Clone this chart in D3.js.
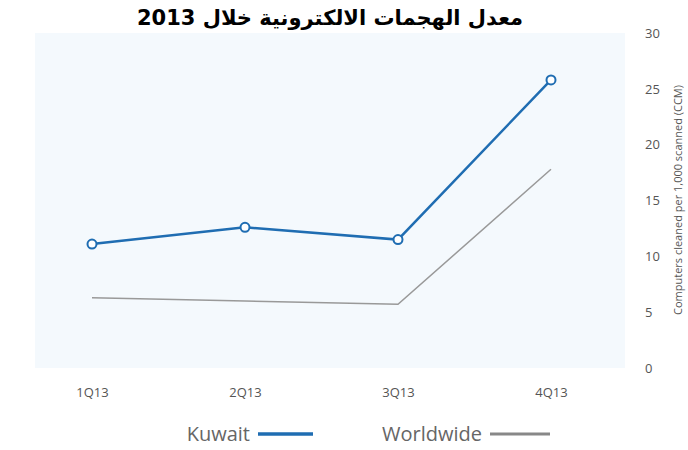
<!DOCTYPE html>
<html>
<head>
<meta charset="utf-8">
<script src="https://d3js.org/d3.v7.min.js"></script>
<style>
  body { margin: 0; background: #fff; }
  text { font-family: "Open Sans", "DejaVu Sans", sans-serif; }
</style>
</head>
<body>
<svg width="688" height="450"></svg>
<script>
  var quarters = ["1Q13", "2Q13", "3Q13", "4Q13"]
  var kuwait = [11.1, 12.6, 11.5, 25.8]
  var worldwide = [6.3, 6.0, 5.7, 17.8]
  var yTicks = [0, 5, 10, 15, 20, 25, 30]

  var svg = d3.select("svg")
  var plotLeft = 35, plotRight = 625, plotTop = 33, plotBottom = 368

  var x = d3.scalePoint().domain(quarters).range([92, 551])
  var y = d3.scaleLinear().domain([0, 30]).range([plotBottom, plotTop])

  // plot background
  svg.append("rect")
    .attr("x", plotLeft).attr("y", plotTop)
    .attr("width", plotRight - plotLeft).attr("height", plotBottom - plotTop)
    .attr("fill", "#f4f9fd")

  // title
  svg.append("text")
    .attr("x", 330).attr("y", 25)
    .attr("text-anchor", "middle")
    .style("font-family", "'DejaVu Sans', sans-serif")
    .style("font-size", "21px").style("font-weight", "bold")
    .attr("direction", "rtl")
    .text("معدل الهجمات الالكترونية خلال 2013")

  // y axis on the right
  var yAxis = d3.axisRight(y).tickValues(yTicks).tickSize(0).tickPadding(0)
  var gy = svg.append("g").attr("transform", "translate(645,0)").call(yAxis)
  gy.select(".domain").remove()
  gy.selectAll("text").style("font-size", "13px").attr("fill", "#555")

  svg.append("text")
    .attr("transform", "translate(682,200) rotate(-90)")
    .attr("text-anchor", "middle")
    .style("font-size", "11px").attr("fill", "#555")
    .text("Computers cleaned per 1,000 scanned (CCM)")

  // x axis labels
  var xAxis = d3.axisBottom(x).tickSize(0).tickPadding(0)
  var gx = svg.append("g").attr("transform", "translate(0,388)").call(xAxis)
  gx.select(".domain").remove()
  gx.selectAll("text").style("font-size", "13px").attr("fill", "#555")

  var line = d3.line().x(function(d, i) { return x(quarters[i]) }).y(function(d) { return y(d) })

  svg.append("path").datum(worldwide)
    .attr("d", line).attr("fill", "none")
    .attr("stroke", "#999").attr("stroke-width", 1.5)

  svg.append("path").datum(kuwait)
    .attr("d", line).attr("fill", "none")
    .attr("stroke", "#1f6db2").attr("stroke-width", 2.5)

  svg.selectAll("circle").data(kuwait).enter().append("circle")
    .attr("cx", function(d, i) { return x(quarters[i]) })
    .attr("cy", function(d) { return y(d) })
    .attr("r", 4.5)
    .attr("fill", "#fff").attr("stroke", "#1f6db2").attr("stroke-width", 2)

  // legend
  var legend = [
    { name: "Kuwait", color: "#1f6db2", w: 3.5, tx: 250, lx: 258, lw: 55 },
    { name: "Worldwide", color: "#888", w: 3, tx: 482, lx: 490, lw: 60 }
  ]
  legend.forEach(function(l) {
    svg.append("text").attr("x", l.tx).attr("y", 441)
      .attr("text-anchor", "end")
      .style("font-size", "20px").attr("fill", "#666").text(l.name)
    svg.append("line").attr("x1", l.lx).attr("x2", l.lx + l.lw)
      .attr("y1", 434).attr("y2", 434)
      .attr("stroke", l.color).attr("stroke-width", l.w)
  })
</script>
</body>
</html>
